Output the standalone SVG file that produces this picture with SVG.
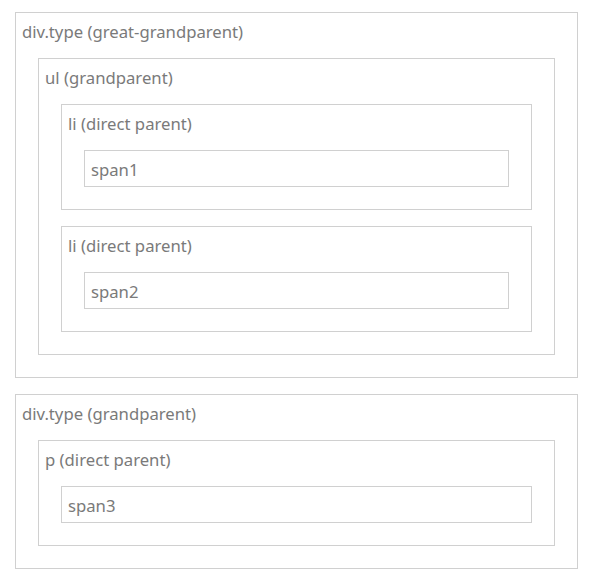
<svg xmlns="http://www.w3.org/2000/svg" width="591" height="580" viewBox="0 0 591 580">
<style>
.box{fill:#fff;stroke:#d0d0d0;stroke-width:1}
.lbl{font-family:"Noto Sans","Open Sans",sans-serif;font-size:16.7px;fill:#7a7a7a}
</style>
<rect width="591" height="580" fill="#fff"/>
<g id="div1">
<rect class="box" x="15.5" y="12.5" width="562" height="365"/>
<text class="lbl" x="22" y="38">div.type (great-grandparent)</text>
</g>
<g id="ul">
<rect class="box" x="38.5" y="58.5" width="516" height="296"/>
<text class="lbl" x="45" y="84">ul (grandparent)</text>
</g>
<g id="li1">
<rect class="box" x="61.5" y="104.5" width="470" height="105"/>
<text class="lbl" x="68" y="130">li (direct parent)</text>
</g>
<g id="span1">
<rect class="box" x="84.5" y="150.5" width="424" height="36"/>
<text class="lbl" x="91" y="176">span1</text>
</g>
<g id="li2">
<rect class="box" x="61.5" y="226.5" width="470" height="105"/>
<text class="lbl" x="68" y="252">li (direct parent)</text>
</g>
<g id="span2">
<rect class="box" x="84.5" y="272.5" width="424" height="36"/>
<text class="lbl" x="91" y="298">span2</text>
</g>
<g id="div2">
<rect class="box" x="15.5" y="394.5" width="562" height="174"/>
<text class="lbl" x="22" y="420">div.type (grandparent)</text>
</g>
<g id="p">
<rect class="box" x="38.5" y="440.5" width="516" height="105"/>
<text class="lbl" x="45" y="466">p (direct parent)</text>
</g>
<g id="span3">
<rect class="box" x="61.5" y="486.5" width="470" height="36"/>
<text class="lbl" x="68" y="512">span3</text>
</g>
<g id="connectors"/>
</svg>
